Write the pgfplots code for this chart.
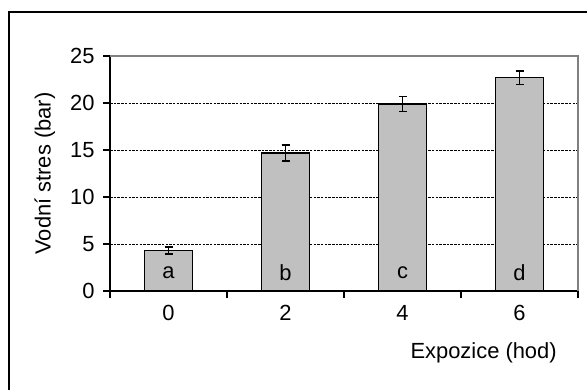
\documentclass[border=0pt]{standalone}
\usepackage{pgfplots}
\pgfplotsset{compat=1.18}
\usepackage{fontspec}
\setmainfont{Liberation Sans}
\definecolor{barfill}{HTML}{C0C0C0}
\definecolor{frame}{HTML}{808080}
\begin{document}
\begin{tikzpicture}[x=1bp,y=1bp]
\useasboundingbox (0,0) rectangle (587,390);
\draw[line width=1.5bp] (9,0) -- (9,378) -- (587,378);
\begin{axis}[
  at={(110bp,99bp)}, anchor=south west,
  scale only axis, width=468bp, height=235bp,
  xmin=-0.5, xmax=3.5, ymin=0, ymax=25,
  axis x line*=bottom, axis y line*=left,
  axis line style={line width=1.2bp, black, -},
  xtick={0,1,2,3}, xticklabels={0,2,4,6},
  major x tick style={draw=none},
  minor xtick={-0.5,0.5,1.5,2.5,3.5},
  minor x tick style={black, line width=1.2bp},
  minor tick length=7bp,
  ytick={0,5,...,25},
  major y tick style={black, line width=1.2bp},
  major tick length=7bp,
  tick align=outside,
  ymajorgrids,
  major grid style={black, line width=0.6bp, dash pattern=on 2.5bp off 1.2bp},
  ticklabel style={font=\fontsize{22}{24}\selectfont},
  yticklabel style={xshift=-5bp},
  xticklabel style={yshift=-4bp},
  /pgf/number format/assume math mode=true,
  xlabel={Expozice (hod)},
  xlabel style={font=\fontsize{22}{24}\selectfont, anchor=east, at={(axis description cs:0.962,-0.264)}},
  ylabel={Vodní stres (bar)},
  ylabel style={font=\fontsize{22}{24}\selectfont, anchor=center, at={(axis description cs:-0.139,0.5)}},
  clip=false,
]
\addplot[ybar, bar width=0.41, fill=barfill, draw=black, line width=1.7bp,
  error bars/.cd, y dir=both, y explicit,
  error bar style={black, line width=1.6bp},
  error mark options={rotate=90, mark size=4bp, line width=1.6bp}]
  coordinates {
  (0,4.3) +- (0,0.35)
  (1,14.7) +- (0,0.85)
  (2,19.9) +- (0,0.8)
  (3,22.7) +- (0,0.72)
};
\draw[frame, line width=1.2bp] (rel axis cs:0,1) -- (rel axis cs:1,1) -- (rel axis cs:1,0);
\node[font=\fontsize{22}{24}\selectfont] at (axis cs:0,1.9) {a};
\node[font=\fontsize{22}{24}\selectfont] at (axis cs:1,1.9) {b};
\node[font=\fontsize{22}{24}\selectfont] at (axis cs:2,1.9) {c};
\node[font=\fontsize{22}{24}\selectfont] at (axis cs:3,1.9) {d};
\end{axis}
\end{tikzpicture}
\end{document}
